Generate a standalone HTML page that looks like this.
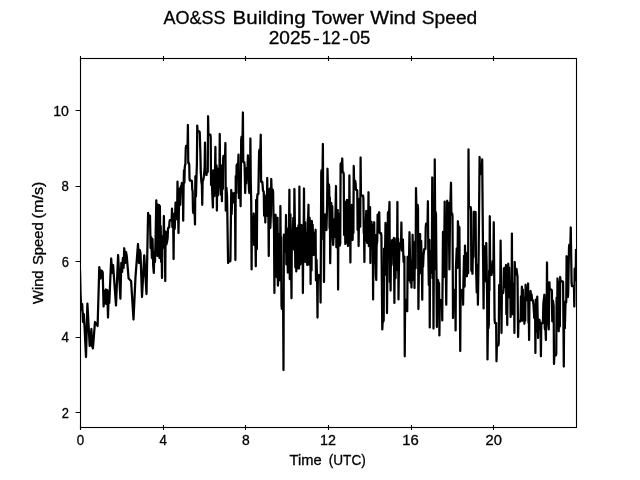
<!DOCTYPE html>
<html><head><meta charset="utf-8"><title>AO&amp;SS Building Tower Wind Speed</title>
<style>html,body{margin:0;padding:0;background:#fff;overflow:hidden}svg{display:block;filter:grayscale(1)}text{font-family:"Liberation Sans",sans-serif;fill:#000;stroke:#000;stroke-width:.3px}</style></head><body>
<svg width="640" height="480" viewBox="0 0 640 480">
<rect width="640" height="480" fill="#fff"/>
<clipPath id="ax"><rect x="80" y="57.6" width="496.5" height="370"/></clipPath>
<polyline clip-path="url(#ax)" points="80.00,270.00 80.60,296.00 81.40,310.00 82.20,304.00 83.00,322.00 83.80,314.00 84.60,328.00 86.00,357.00 87.40,303.60 89.70,346.00 90.30,332.00 90.90,345.00 91.40,329.00 92.10,346.00 92.90,348.50 95.00,322.00 97.60,326.00 99.30,267.20 100.50,278.50 101.50,270.50 102.70,272.20 103.60,306.50 104.60,291.00 105.30,303.50 105.90,289.50 106.60,304.00 107.30,290.00 108.00,317.50 108.70,292.00 109.30,303.00 110.00,286.00 111.20,258.50 112.10,273.00 113.10,265.00 116.00,305.50 118.10,255.00 120.40,298.60 121.30,263.00 122.10,272.00 122.90,258.00 123.60,268.00 124.25,248.25 125.20,263.00 126.00,252.00 126.75,256.00 128.60,278.50 131.10,281.00 133.50,319.50 135.50,277.00 138.00,244.00 139.00,263.00 139.80,250.00 140.50,253.00 142.00,297.00 144.25,255.40 146.50,294.00 148.10,212.90 148.46,215.53 149.05,215.53 149.64,215.53 150.00,216.00 150.60,248.00 151.20,237.00 151.90,258.00 152.50,239.00 153.20,266.00 153.80,272.90 154.40,252.00 155.00,262.00 155.60,238.00 156.30,200.30 156.70,221.00 157.10,204.00 157.50,256.00 157.90,206.00 158.30,222.00 158.70,250.00 159.10,205.00 159.50,258.00 159.90,206.00 160.30,254.00 160.70,226.00 161.10,262.00 161.50,236.00 162.00,278.00 162.36,240.43 162.95,238.69 163.54,236.19 163.90,216.00 164.26,247.99 164.89,239.46 165.25,281.00 165.61,231.50 166.29,244.64 166.96,242.28 167.64,238.12 168.00,228.50 168.36,227.53 169.14,227.53 169.50,222.00 169.86,220.00 170.45,220.00 171.05,220.00 171.64,220.00 172.00,208.70 172.36,227.18 172.80,215.22 173.24,225.67 173.60,259.00 173.96,213.89 174.75,228.91 175.55,202.58 176.34,219.09 177.14,212.72 177.50,181.60 177.86,219.04 178.14,215.01 178.50,233.00 178.86,211.72 179.53,188.63 180.20,204.80 180.87,186.00 181.54,186.00 181.90,183.00 182.26,186.00 182.84,186.00 183.20,220.70 183.56,189.20 183.97,170.50 184.39,182.68 184.75,167.50 185.11,164.69 185.39,164.69 185.75,148.75 186.11,145.75 186.83,145.75 187.54,145.75 187.90,125.00 188.26,163.00 188.94,163.00 189.30,166.00 189.50,178.50 189.86,180.62 190.42,180.62 190.98,180.62 191.54,180.62 191.90,181.00 192.26,189.78 192.64,190.80 193.00,211.00 193.36,213.03 194.00,213.03 194.64,213.03 195.00,224.50 195.36,176.32 195.95,196.39 196.54,174.53 196.90,163.75 197.25,125.60 197.61,131.47 198.20,131.47 198.80,131.47 199.39,131.47 199.75,132.50 200.40,153.75 200.76,171.40 201.33,181.32 201.89,185.34 202.25,204.80 202.61,181.58 203.29,179.85 203.96,176.14 204.64,167.20 205.00,142.70 205.36,172.00 206.14,172.00 206.50,175.00 206.86,172.00 207.30,172.00 207.74,172.00 208.10,116.25 208.46,134.50 209.09,134.50 209.71,134.50 210.34,134.50 210.70,137.50 211.06,185.07 211.80,182.03 212.54,199.62 212.90,207.50 213.26,170.32 213.85,188.92 214.45,196.01 215.04,168.87 215.40,146.90 215.76,186.40 216.54,165.26 216.90,210.60 217.26,168.39 217.97,195.45 218.68,173.44 219.39,183.01 219.75,134.00 220.11,177.61 220.83,194.62 221.54,174.67 221.90,201.25 222.26,165.21 222.84,188.88 223.20,158.00 223.56,155.75 224.30,155.75 225.04,155.75 225.40,143.00 225.76,210.60 226.42,187.87 227.08,196.65 227.74,240.90 228.10,263.00 228.46,261.30 229.25,261.30 230.04,261.30 230.40,261.00 231.25,190.00 231.61,214.23 232.30,193.00 232.98,202.50 233.67,198.75 234.35,193.00 235.04,203.14 235.40,260.00 235.76,176.02 236.24,193.21 236.60,166.00 236.96,164.29 237.55,164.29 238.14,164.29 238.50,154.60 238.86,198.01 239.55,181.07 240.24,188.86 240.60,206.25 241.20,139.60 241.56,136.60 242.05,136.60 242.54,136.60 242.90,112.50 243.26,162.00 243.75,162.00 244.24,162.00 244.60,165.00 245.20,193.00 245.56,174.41 246.14,183.50 246.50,170.00 246.86,167.81 247.54,167.81 247.90,155.40 248.26,174.67 249.04,190.00 249.40,193.00 249.76,173.49 250.04,190.00 250.40,138.50 250.76,180.39 251.24,203.14 251.60,269.40 251.96,216.50 252.68,216.50 253.39,235.21 253.75,213.50 254.11,244.89 254.78,216.50 255.44,242.40 255.80,266.25 256.16,200.00 256.84,249.20 257.20,197.00 257.56,194.00 257.98,194.00 258.39,194.00 258.75,171.00 259.10,152.25 259.46,149.62 259.93,149.62 260.39,149.62 260.75,134.75 261.11,181.75 261.68,181.75 262.24,181.75 262.60,184.75 262.96,190.91 263.39,190.91 263.75,192.00 264.11,215.62 264.53,195.00 264.94,197.59 265.30,222.50 265.66,199.74 266.28,200.41 266.89,207.43 267.25,178.00 267.61,216.15 268.39,214.29 268.75,256.00 269.11,197.72 269.70,188.51 270.30,227.89 270.89,214.02 271.25,179.00 271.61,189.71 272.18,189.71 272.74,189.71 273.10,191.60 273.46,214.95 274.04,229.09 274.40,293.00 274.76,217.75 275.24,223.74 275.60,214.75 275.96,247.40 276.75,277.31 277.54,217.75 277.90,285.60 278.26,278.24 278.85,278.27 279.45,233.86 280.04,280.20 280.40,206.00 280.76,250.71 281.14,237.14 281.50,305.75 281.86,308.75 282.50,308.75 283.14,308.75 283.50,370.00 283.86,234.58 284.45,251.43 285.05,244.15 285.64,245.20 286.00,215.00 286.36,264.37 286.90,261.44 287.44,240.32 287.80,272.60 288.16,228.45 288.60,269.60 289.04,225.85 289.40,189.75 289.76,279.08 290.45,214.38 291.14,266.56 291.50,298.25 291.86,231.71 292.59,239.43 293.31,217.98 294.04,249.71 294.40,189.00 294.76,214.66 295.32,267.32 295.89,235.60 296.25,271.40 296.61,228.12 297.22,228.64 297.82,268.40 298.43,225.26 299.04,268.40 299.40,186.60 299.76,256.14 300.04,256.97 300.40,264.50 300.76,228.00 301.24,261.06 301.60,225.00 301.96,235.10 302.54,230.59 302.90,293.00 303.26,244.75 303.64,236.23 304.00,188.50 304.36,261.61 304.99,222.19 305.62,262.00 306.26,233.25 306.89,248.91 307.25,265.00 307.61,222.95 308.14,216.73 308.50,204.75 308.86,264.40 309.55,217.68 310.24,227.09 310.60,284.00 310.96,224.00 311.54,270.51 311.90,221.00 312.26,252.00 312.70,224.86 313.14,249.54 313.50,255.00 313.86,252.00 314.55,232.75 315.24,252.00 315.60,229.75 315.96,280.27 316.55,259.90 317.14,282.45 317.50,317.60 317.86,278.00 318.64,278.00 319.00,275.00 319.36,278.00 319.80,278.00 320.24,278.00 320.60,302.60 321.25,173.00 321.61,170.00 322.07,170.00 322.54,170.00 322.90,144.00 323.26,239.47 323.64,220.40 324.00,282.00 324.36,229.54 325.06,214.27 325.75,222.98 326.44,230.02 327.14,203.82 327.50,168.75 327.86,184.26 328.35,184.26 328.84,184.26 329.20,187.00 329.56,228.25 329.84,197.43 330.20,263.25 330.56,235.33 330.94,206.00 331.30,203.00 331.66,230.21 332.25,206.00 332.84,238.70 333.20,245.00 333.56,237.17 334.25,219.50 334.95,236.79 335.64,204.26 336.00,186.00 336.36,247.26 337.05,222.55 337.74,210.10 338.10,289.50 338.46,215.22 339.05,214.14 339.65,245.74 340.24,243.36 340.60,164.00 340.96,163.18 341.43,163.18 341.89,163.18 342.25,158.50 342.61,172.31 343.39,172.31 343.75,174.75 344.11,234.89 344.53,222.32 344.94,201.60 345.30,244.00 345.66,203.00 346.15,230.67 346.64,218.71 347.00,200.00 347.36,243.00 347.64,203.00 348.00,246.00 348.36,199.86 349.04,238.20 349.40,175.40 349.76,225.16 350.04,212.10 350.40,262.50 350.76,208.00 351.44,225.23 351.80,205.00 352.60,240.00 352.96,220.72 353.39,232.97 353.75,166.00 354.11,180.88 354.68,180.88 355.24,180.88 355.60,183.50 355.96,189.88 356.43,189.88 356.89,189.88 357.25,191.00 357.61,229.93 358.24,198.69 358.60,246.00 358.96,220.75 359.60,222.04 360.24,226.73 360.60,157.50 360.96,195.50 361.65,195.50 362.35,195.50 363.04,195.50 363.40,198.50 363.76,233.18 364.04,231.64 364.40,262.00 364.76,221.44 365.35,240.62 365.94,219.22 366.30,211.00 367.20,243.00 367.56,218.51 368.14,236.04 368.50,192.25 368.86,246.19 369.45,224.32 370.04,207.09 370.40,263.00 370.76,225.00 371.24,225.00 371.60,222.00 371.96,248.17 372.74,225.00 373.10,299.40 373.46,231.29 373.84,236.85 374.20,222.25 374.56,263.38 375.23,234.95 375.89,276.44 376.25,280.00 376.61,245.82 377.24,240.36 377.60,214.75 377.96,214.38 378.43,214.38 378.89,214.38 379.25,212.25 379.61,233.00 380.32,233.00 381.04,233.00 381.40,236.00 382.30,329.40 382.66,321.41 383.34,321.41 383.70,320.00 384.06,248.71 384.60,274.96 385.14,248.47 385.50,222.90 385.86,265.63 386.64,243.19 387.00,313.00 387.90,213.50 388.26,211.78 388.70,211.78 389.14,211.78 389.50,202.00 389.86,281.87 390.24,259.33 390.60,290.60 390.96,250.31 391.64,264.89 392.00,240.40 392.36,240.04 392.95,240.04 393.54,240.04 393.90,238.00 394.40,303.00 394.76,255.10 395.52,278.30 396.28,238.43 397.04,265.03 397.40,202.00 397.76,270.43 398.14,238.71 398.50,299.40 398.86,269.95 399.34,249.00 399.70,246.00 400.06,243.00 400.55,243.00 401.04,243.00 401.40,222.50 401.76,250.50 402.32,250.50 402.89,239.54 403.25,253.50 403.61,261.93 404.39,256.50 404.75,356.25 405.11,303.00 405.64,303.00 406.00,300.00 406.36,301.69 406.89,301.69 407.25,311.25 407.61,256.76 408.38,280.39 409.14,251.75 409.50,232.25 409.86,250.88 410.50,282.73 411.14,270.10 411.50,287.50 411.86,261.16 412.24,280.36 412.60,234.75 412.96,262.86 413.55,263.41 414.14,256.20 414.50,288.00 414.86,241.72 415.64,268.32 416.00,188.00 416.36,204.91 417.00,204.91 417.64,204.91 418.00,207.90 418.40,309.00 418.76,279.44 419.25,248.16 419.74,263.03 420.10,234.00 420.46,273.21 421.18,240.99 421.89,268.19 422.25,299.75 422.61,255.00 423.07,266.68 423.54,255.00 423.90,252.00 424.26,249.00 424.82,249.00 425.39,249.00 425.75,226.60 426.11,223.60 426.82,223.60 427.54,223.60 427.90,201.25 428.26,249.92 428.82,285.08 429.39,239.90 429.75,327.40 430.11,260.67 430.70,251.12 431.30,272.92 431.89,252.99 432.25,177.50 432.61,278.22 433.14,243.02 433.50,328.50 433.86,259.83 434.39,269.47 434.75,159.40 435.11,212.00 435.64,212.00 436.00,215.00 436.90,327.00 437.26,283.00 437.64,283.35 438.00,280.00 438.36,283.00 439.04,283.00 439.40,335.40 439.76,303.00 440.20,303.00 440.64,303.00 441.00,300.00 441.36,303.00 441.89,303.00 442.25,320.40 443.00,232.00 443.90,277.00 444.70,201.60 445.06,255.77 445.48,258.25 445.89,276.64 446.25,304.75 447.20,200.75 448.00,216.00 448.70,203.00 449.40,269.40 450.10,212.00 451.00,182.75 451.36,213.25 452.14,213.25 452.50,216.25 453.00,318.00 453.36,293.00 454.14,293.00 454.50,290.00 454.86,293.00 455.24,293.00 455.60,330.40 455.96,267.82 456.75,248.28 457.54,267.83 457.90,221.25 458.26,226.56 459.04,226.56 459.40,227.50 460.25,351.00 460.61,293.00 461.12,293.00 461.64,293.00 462.00,290.00 462.36,292.21 462.74,292.21 463.10,304.75 463.46,280.09 464.05,255.94 464.64,286.52 465.00,245.60 465.36,273.25 465.95,252.63 466.54,273.25 466.90,276.25 467.26,258.07 467.70,268.05 468.14,273.25 468.50,149.40 468.86,207.00 469.45,207.00 470.05,207.00 470.64,207.00 471.00,210.00 471.36,270.75 472.14,270.75 472.50,273.75 472.86,251.19 473.39,257.10 473.75,211.90 474.11,211.99 474.68,211.99 475.24,211.99 475.60,212.00 475.96,262.21 476.75,292.40 477.54,264.84 477.90,304.75 478.70,250.00 479.60,157.00 479.96,171.45 480.54,171.45 480.90,174.00 481.26,171.81 481.84,171.81 482.20,159.40 483.00,250.00 483.60,308.50 483.96,246.00 484.60,274.80 485.25,257.77 485.89,281.45 486.25,243.00 486.61,263.43 487.14,298.17 487.50,359.40 487.86,328.00 488.44,328.00 488.80,325.00 489.16,270.74 489.44,290.57 489.80,216.25 490.16,272.00 490.65,272.00 491.14,272.00 491.50,275.00 491.86,272.00 492.62,261.21 493.39,272.00 493.75,222.25 494.60,320.00 494.96,323.00 495.55,323.00 496.14,323.00 496.50,361.25 496.86,345.31 497.62,345.31 498.39,345.31 498.75,342.50 499.11,285.13 499.68,308.74 500.24,287.13 500.60,240.60 501.50,333.00 501.86,293.00 502.50,293.00 503.14,293.00 503.50,290.00 503.86,268.36 504.45,268.00 505.05,287.00 505.64,287.00 506.00,265.00 506.36,314.17 506.89,299.39 507.25,325.00 507.61,286.54 507.89,297.69 508.25,263.75 508.61,294.52 509.15,267.69 509.70,297.81 510.24,283.27 510.60,317.00 510.96,296.09 511.54,314.00 511.90,233.50 512.26,314.23 512.85,311.57 513.45,305.37 514.04,283.46 514.40,333.00 514.75,262.00 515.11,274.32 515.79,274.32 516.46,268.76 517.14,274.32 517.50,276.50 518.10,337.00 518.46,321.49 519.05,321.49 519.65,321.49 520.24,321.49 520.60,318.75 520.96,296.33 521.54,305.62 521.90,286.60 522.26,320.75 522.85,289.60 523.45,306.54 524.04,304.99 524.40,323.75 524.76,298.43 525.24,320.75 525.60,284.75 525.96,297.71 526.64,297.71 527.00,300.00 527.36,297.52 527.74,297.52 528.10,283.50 528.46,322.81 528.74,304.24 529.10,340.00 529.46,297.93 530.24,294.00 530.60,291.00 530.96,300.01 531.55,294.29 532.15,300.01 532.74,300.01 533.10,301.60 533.46,304.60 534.25,318.04 535.04,304.60 535.40,353.00 535.76,299.60 536.33,331.46 536.89,322.69 537.25,296.60 538.10,338.00 538.46,322.49 539.14,328.89 539.50,319.75 539.86,323.54 540.54,322.75 540.90,356.25 541.26,325.09 541.95,323.00 542.64,323.00 543.00,320.00 543.36,303.61 544.04,297.75 544.40,294.75 544.76,328.14 545.54,330.73 545.90,340.00 546.26,298.57 546.64,320.22 547.00,262.50 547.36,311.17 547.88,307.19 548.39,325.60 548.75,329.40 549.40,282.25 549.76,289.69 550.35,289.69 550.95,289.69 551.54,289.69 551.90,291.00 552.26,321.36 552.95,300.57 553.64,306.14 554.00,364.00 554.36,355.29 555.12,355.29 555.89,355.29 556.25,353.75 556.61,297.57 557.14,327.74 557.50,278.50 557.86,322.48 558.39,281.50 558.75,331.25 559.11,284.80 559.84,326.49 560.20,277.00 560.56,281.46 561.29,281.46 562.01,281.46 562.74,281.46 563.10,282.25 563.80,366.60 564.16,305.78 564.85,328.23 565.55,301.49 566.24,302.32 566.60,256.25 566.96,294.00 567.44,294.00 567.80,297.00 568.16,294.00 568.64,267.76 569.00,247.50 569.36,244.50 569.88,244.50 570.39,244.50 570.75,227.50 571.60,283.00 571.96,286.00 572.62,286.00 573.28,286.00 573.94,286.00 574.30,306.50 574.66,268.53 575.15,272.94 575.64,280.24 576.00,249.00" fill="none" stroke="#000" stroke-width="2.25" stroke-linejoin="round" stroke-linecap="butt"/>
<rect x="80.5" y="58.5" width="496.0" height="369.0" fill="none" stroke="#000" stroke-width="1.1"/>
<path d="M80.5 425.1V429.9 M80.5 56.1V60.9 M163.5 425.1V429.9 M163.5 56.1V60.9 M245.5 425.1V429.9 M245.5 56.1V60.9 M328.5 425.1V429.9 M328.5 56.1V60.9 M411.5 425.1V429.9 M411.5 56.1V60.9 M493.5 425.1V429.9 M493.5 56.1V60.9 M75.6 412.5H80.5 M75.6 337.5H80.5 M75.6 261.5H80.5 M75.6 186.5H80.5 M75.6 110.5H80.5" stroke="#000" stroke-width="1.1" fill="none"/>
<rect x="313.8" y="38.8" width="5.1" height="1.45"/><rect x="343.0" y="38.8" width="5.1" height="1.45"/>
<text transform="translate(163.50 23.75) scale(1.0046 1)" font-size="17.9">AO&amp;SS</text>
<text transform="translate(232.60 23.75) scale(1.1465 1)" font-size="17.9">Building</text>
<text transform="translate(311.80 23.75) scale(1.0950 1)" font-size="17.9">Tower</text>
<text transform="translate(370.30 23.75) scale(1.1153 1)" font-size="17.9">Wind</text>
<text transform="translate(421.80 23.75) scale(1.0732 1)" font-size="17.9">Speed</text>
<text transform="translate(268.70 43.55) scale(1.0727 1)" font-size="17.8">2025</text>
<text transform="translate(321.65 43.55) scale(0.9503 1)" font-size="17.8">12</text>
<text transform="translate(349.75 43.55) scale(1.0383 1)" font-size="17.8">05</text>
<text transform="translate(289.50 465.30) scale(1.0434 1)" font-size="14.1">Time</text>
<text transform="translate(328.70 465.30) scale(0.9679 1)" font-size="14.1">(UTC)</text>
<text transform="translate(76.75 444.75) scale(0.9375 1)" font-size="14.2">0</text>
<text transform="translate(159.42 444.75) scale(0.9375 1)" font-size="14.2">4</text>
<text transform="translate(241.93 444.75) scale(0.9750 1)" font-size="14.2">8</text>
<text transform="translate(319.99 444.75) scale(1.0074 1)" font-size="14.2">12</text>
<text transform="translate(402.32 444.75) scale(1.0477 1)" font-size="14.2">16</text>
<text transform="translate(485.58 444.75) scale(1.0384 1)" font-size="14.2">20</text>
<text transform="translate(61.70 417.70) scale(0.9125 1)" font-size="14.2">2</text>
<text transform="translate(61.40 342.18) scale(0.9500 1)" font-size="14.2">4</text>
<text transform="translate(61.70 266.66) scale(0.9125 1)" font-size="14.2">6</text>
<text transform="translate(61.60 191.14) scale(0.9250 1)" font-size="14.2">8</text>
<text transform="translate(53.21 115.62) scale(0.9939 1)" font-size="14.2">10</text>
<text transform="translate(42.7 304.00) rotate(-90) scale(1.0457 1)" font-size="14.1">Wind</text>
<text transform="translate(42.7 265.10) rotate(-90) scale(1.0522 1)" font-size="14.1">Speed</text>
<text transform="translate(42.7 218.40) rotate(-90) scale(1.1466 1)" font-size="14.1">(m/s)</text>
</svg></body></html>
